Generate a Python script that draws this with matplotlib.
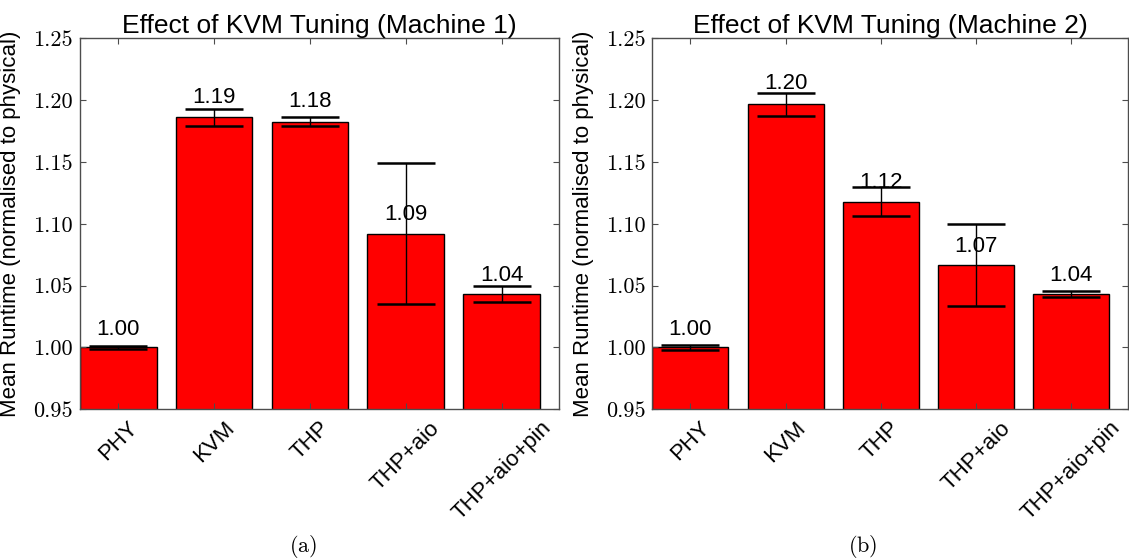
import matplotlib
matplotlib.use('Agg')
import matplotlib.pyplot as plt
import numpy as np

plt.rcParams['font.family'] = ['Liberation Sans', 'DejaVu Sans']
plt.rcParams['mathtext.fontset'] = 'cm'

# data
configs = ['PHY', 'KVM', 'THP', 'THP+aio', 'THP+aio+pin']
m1_mean = [1.000, 1.186, 1.1825, 1.0918, 1.0433]
m1_err = [0.001, 0.0066, 0.0037, 0.057, 0.0065]
m2_mean = [1.000, 1.1967, 1.1179, 1.0665, 1.0431]
m2_err = [0.002, 0.0093, 0.012, 0.033, 0.0026]
yticks = [0.95, 1.00, 1.05, 1.10, 1.15, 1.20, 1.25]
titles = ['Effect of KVM Tuning (Machine 1)', 'Effect of KVM Tuning (Machine 2)']
captions = ['(a)', '(b)']

fig = plt.figure(figsize=(11.29, 5.58), dpi=100)
ax1 = fig.add_axes([0.0709, 0.2665, 0.4243, 0.665])
ax2 = fig.add_axes([0.5778, 0.2665, 0.4216, 0.665])

def draw(ax, means, errs, title):
    x = np.arange(len(configs))
    ax.bar(x, means, width=0.8, color='#ff0000', edgecolor='black', linewidth=1)
    ax.errorbar(x, means, yerr=errs, fmt='none', ecolor='black',
                elinewidth=1, capsize=21, capthick=1.8)
    for xi, m in zip(x, means):
        ax.text(xi, m * 1.01, '%.2f' % m, ha='center', va='baseline', fontsize=16)
    ax.set_xlim(-0.4, 4.6)
    ax.set_ylim(0.95, 1.25)
    ax.set_yticks(yticks)
    ax.set_yticklabels(['%.2f' % v for v in yticks], family='cmr10', fontsize=16)
    ax.set_xticks(x)
    ax.set_xticklabels(configs, rotation=45, ha='center', fontsize=16)
    ax.tick_params(axis='y', direction='in', length=4,
                   right=True, color='0.3', pad=5)
    ax.tick_params(axis='x', direction='in', length=4, top=True,
                   color='0.3', pad=6)
    for s in ax.spines.values():
        s.set_color('0.3')
        s.set_linewidth(1)
    ax.set_title(title, fontsize=19, pad=4)
    ax.set_ylabel('Mean Runtime (normalised to physical)', fontsize=16)

draw(ax1, m1_mean, m1_err, titles[0])
draw(ax2, m2_mean, m2_err, titles[1])
ax1.yaxis.set_label_coords(-0.124, 0.5)
ax2.yaxis.set_label_coords(-0.122, 0.5)

fig.text(303 / 1129, 1 - 546 / 558, r'$\mathrm{%s}$' % captions[0], ha='center', va='center', fontsize=16)
fig.text(863 / 1129, 1 - 546 / 558, r'$\mathrm{%s}$' % captions[1], ha='center', va='center', fontsize=16)

fig.savefig('out.png', dpi=100)
